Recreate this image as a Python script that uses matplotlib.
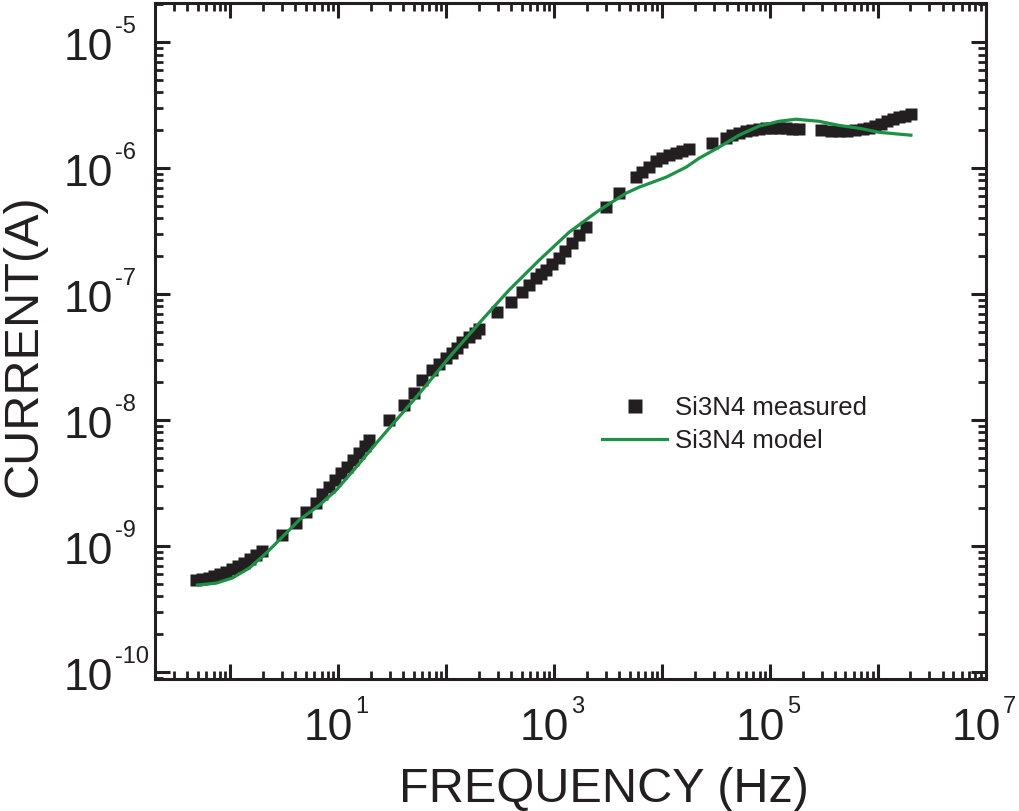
import matplotlib
matplotlib.use("Agg")
import matplotlib.pyplot as plt
from matplotlib.ticker import LogLocator, NullFormatter

plt.rcParams['font.family'] = ['Liberation Sans', 'DejaVu Sans']

# measured points (Hz, A)
freq_meas = [0.48, 0.55, 0.63, 0.71, 0.81, 0.92, 1.04, 1.19, 1.35, 1.53, 1.74, 1.98,
             3.03, 4.08, 5.05, 6.26, 7.11, 8.26, 9.38, 10.7, 12.1, 13.8, 15.6, 17.8, 19.4,
             29.7, 40.8, 50.6, 60.0, 74.2, 86.1, 100, 114, 126, 141, 163, 186, 202,
             297, 400, 506, 587, 681, 758, 843, 958, 1110, 1260, 1470, 1700, 1980,
             3030, 4000, 5740, 6530, 7590, 8800, 1.0e4, 1.16e4, 1.35e4, 1.53e4, 1.78e4,
             2.9e4, 3.92e4, 4.45e4, 5.16e4, 6.0e4, 6.81e4, 7.91e4, 9.18e4, 1.04e5, 1.21e5,
             1.41e5, 1.6e5, 1.86e5, 2.97e5, 3.67e5, 4.35e5, 5.16e5, 6.12e5, 7.26e5, 8.26e5,
             9.38e5, 1.07e6, 1.21e6, 1.38e6, 1.56e6, 1.78e6, 2.02e6]
curr_meas = [5.37e-10, 5.47e-10, 5.57e-10, 5.78e-10, 6.0e-10, 6.22e-10, 6.57e-10, 6.94e-10,
             7.33e-10, 7.88e-10, 8.49e-10, 9.12e-10,
             1.22e-9, 1.52e-9, 1.86e-9, 2.19e-9, 2.59e-9, 2.94e-9, 3.34e-9, 3.79e-9, 4.23e-9,
             4.82e-9, 5.47e-9, 6.22e-9, 6.94e-9,
             1.0e-8, 1.32e-8, 1.64e-8, 2.07e-8, 2.49e-8, 2.78e-8, 3.10e-8, 3.40e-8, 3.73e-8,
             4.16e-8, 4.56e-8, 4.90e-8, 5.27e-8,
             7.19e-8, 8.64e-8, 1.04e-7, 1.18e-7, 1.34e-7, 1.44e-7, 1.55e-7, 1.73e-7, 1.93e-7,
             2.19e-7, 2.54e-7, 2.94e-7, 3.40e-7,
             4.90e-7, 6.33e-7, 8.49e-7, 9.30e-7, 1.02e-6, 1.14e-6, 1.20e-6, 1.27e-6, 1.32e-6,
             1.37e-6, 1.42e-6,
             1.58e-6, 1.73e-6, 1.83e-6, 1.90e-6, 1.97e-6, 2.02e-6, 2.05e-6, 2.07e-6, 2.07e-6,
             2.07e-6, 2.07e-6, 2.05e-6, 2.05e-6, 2.0e-6, 1.97e-6, 1.97e-6, 1.97e-6, 2.0e-6,
             2.04e-6, 2.08e-6, 2.16e-6, 2.23e-6, 2.36e-6, 2.45e-6, 2.54e-6, 2.59e-6, 2.68e-6]

# model curve (Hz, A)
freq_model = [0.495, 0.742, 1.04, 1.50, 2.15, 3.03, 4.35, 6.67, 9.58, 14.7, 22.5, 34.4,
              52.7, 80.8, 107, 202, 383, 726, 1380, 2610, 4640, 6120, 1.09e4, 1.67e4,
              2.2e4, 3.37e4, 5.16e4, 7.91e4, 1.21e5, 1.74e5, 2.84e5, 4.35e5, 6.67e5,
              1.02e6, 2.02e6]
curr_model = [4.90e-10, 5.08e-10, 5.57e-10, 6.69e-10, 8.79e-10, 1.18e-9, 1.61e-9, 2.11e-9,
              2.78e-9, 4.24e-9, 6.56e-9, 1.0e-8, 1.52e-8, 2.36e-8, 3.16e-8, 5.89e-8,
              1.08e-7, 1.86e-7, 3.11e-7, 4.64e-7, 6.34e-7, 7.07e-7, 8.49e-7, 1.02e-6,
              1.20e-6, 1.47e-6, 1.83e-6, 2.16e-6, 2.36e-6, 2.45e-6, 2.36e-6, 2.19e-6,
              2.08e-6, 1.93e-6, 1.83e-6]

x_label_exps = [1, 3, 5, 7]
y_label_exps = [-10, -9, -8, -7, -6, -5]

ink = '#231f20'
green = '#1c9245'

fig = plt.figure(figsize=(10.19, 8.11), dpi=100)
ax = fig.add_axes([0.152, 0.1628, 0.8155, 0.8331])

ax.plot(freq_meas, curr_meas, 's', ms=8.6, color=ink, mec='none', label='Si3N4 measured', zorder=2)
ax.plot(freq_model, curr_model, '-', lw=2.3, color=green, label='Si3N4 model', zorder=3)

ax.set_xscale('log')
ax.set_yscale('log')
ax.set_xlim(0.2, 1e7)
ax.set_ylim(8.8e-11, 2.04e-5)

ax.xaxis.set_major_locator(LogLocator(base=10, numticks=20))
ax.xaxis.set_minor_locator(LogLocator(base=10, subs=range(2, 10), numticks=200))
ax.yaxis.set_major_locator(LogLocator(base=10, numticks=20))
ax.yaxis.set_minor_locator(LogLocator(base=10, subs=range(2, 10), numticks=200))
ax.xaxis.set_major_formatter(NullFormatter())
ax.xaxis.set_minor_formatter(NullFormatter())
ax.yaxis.set_major_formatter(NullFormatter())
ax.yaxis.set_minor_formatter(NullFormatter())

ax.tick_params(which='both', direction='in', top=True, right=True, color=ink)
ax.tick_params(which='major', length=10.8, width=2.2)
ax.tick_params(which='minor', length=5.8, width=2.0)
for s in ax.spines.values():
    s.set_linewidth(2.2)
    s.set_color(ink)

# tick labels drawn as "10" + small exponent
px = 0.72
for e in x_label_exps:
    ax.annotate('10', xy=(10.0 ** e, 0), xycoords=ax.get_xaxis_transform(),
                xytext=(15 * px, -61 * px), textcoords='offset points',
                ha='right', va='baseline', fontsize=32, color=ink, annotation_clip=False)
    ax.annotate(str(e), xy=(10.0 ** e, 0), xycoords=ax.get_xaxis_transform(),
                xytext=(17 * px, -34 * px), textcoords='offset points',
                ha='left', va='baseline', fontsize=17, color=ink, annotation_clip=False)
for e in y_label_exps:
    ax.annotate('10', xy=(0, 10.0 ** e), xycoords=ax.get_yaxis_transform(),
                xytext=(-42 * px, -18 * px), textcoords='offset points',
                ha='right', va='baseline', fontsize=32, color=ink, annotation_clip=False)
    ax.annotate(str(e), xy=(0, 10.0 ** e), xycoords=ax.get_yaxis_transform(),
                xytext=(-40 * px, 9 * px), textcoords='offset points',
                ha='left', va='baseline', fontsize=17, color=ink, annotation_clip=False)

ax.set_xlabel('FREQUENCY (Hz)', fontsize=35, color=ink, va='baseline')
ax.xaxis.set_label_coords(0.54, -0.182)
ax.set_ylabel('CURRENT(A)', fontsize=35, color=ink, va='baseline', rotation_mode='anchor')
ax.yaxis.set_label_coords(-0.142, 0.494)

ax.legend(loc='center left', bbox_to_anchor=(602 / 1019, 1 - 424.5 / 811),
          bbox_transform=fig.transFigure, frameon=False, fontsize=18.5,
          borderpad=0, borderaxespad=0, handlelength=2.53, handletextpad=0.31,
          labelspacing=0.38, markerscale=1.25, labelcolor=ink)

fig.savefig('out.png', dpi=100)
